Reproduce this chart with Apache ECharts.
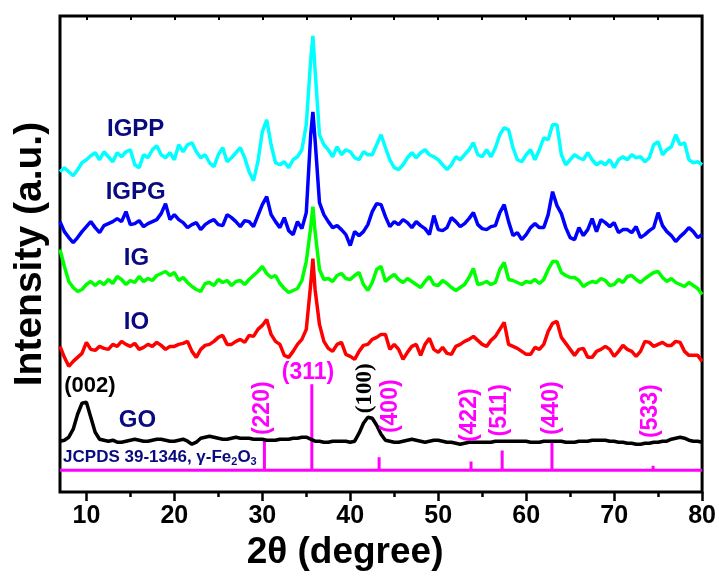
<!DOCTYPE html>
<html>
<head>
<meta charset="utf-8">
<script src="https://cdn.jsdelivr.net/npm/echarts@6/dist/echarts.min.js"></script>
<style>
  html, body { margin: 0; padding: 0; background: #fff; }
  #chart { width: 719px; height: 576px; }
</style>
</head>
<body>
<div id="chart"></div>
<script>
// 2-theta grid (degree)
const twoTheta = [
  7, 7.5, 8, 8.5, 9, 9.5, 10, 10.5, 11, 11.5,
  12, 12.5, 13, 13.5, 14, 14.5, 15, 15.5, 16, 16.5,
  17, 17.5, 18, 18.5, 19, 19.5, 20, 20.5, 21, 21.5,
  22, 22.5, 23, 23.5, 24, 24.5, 25, 25.5, 26, 26.5,
  27, 27.5, 28, 28.5, 29, 29.5, 30, 30.5, 31, 31.5,
  32, 32.5, 33, 33.5, 34, 34.5, 35, 35.5, 35.75, 36,
  36.5, 37, 37.5, 38, 38.5, 39, 39.5, 40, 40.5, 41,
  41.5, 42, 42.5, 43, 43.5, 44, 44.5, 45, 45.5, 46,
  46.5, 47, 47.5, 48, 48.5, 49, 49.5, 50, 50.5, 51,
  51.5, 52, 52.5, 53, 53.5, 54, 54.5, 55, 55.5, 56,
  56.5, 57, 57.5, 58, 58.5, 59, 59.5, 60, 60.5, 61,
  61.5, 62, 62.5, 63, 63.5, 64, 64.5, 65, 65.5, 66,
  66.5, 67, 67.5, 68, 68.5, 69, 69.5, 70, 70.5, 71,
  71.5, 72, 72.5, 73, 73.5, 74, 74.5, 75, 75.5, 76,
  76.5, 77, 77.5, 78, 78.5, 79, 79.5, 80
]

// intensities (a.u., already stacked with offsets)
const goData = [
  51, 52, 55, 63, 78, 89, 90, 75, 60, 53,
  52, 51, 52, 50, 50, 51, 52, 53, 52, 51,
  51, 52, 53, 53, 52, 51, 51, 52, 53, 51,
  48, 50, 54, 55, 56, 55, 54, 53, 53, 54,
  55, 54, 54, 54, 53, 53, 53, 52, 52, 52,
  53, 53, 53, 54, 54, 55, 55, 53, 52, 51,
  51, 50, 50, 51, 51, 51, 51, 50, 51, 59,
  69, 75, 74, 67, 58, 52, 51, 50, 50, 51,
  52, 53, 52, 51, 50, 51, 52, 52, 51, 50,
  50, 49, 48, 49, 50, 50, 50, 50, 50, 50,
  51, 51, 51, 51, 51, 51, 51, 51, 50, 50,
  50, 51, 51, 51, 51, 51, 50, 50, 50, 51,
  51, 51, 52, 52, 52, 52, 51, 51, 50, 50,
  49, 49, 48, 48, 49, 49, 50, 50, 51, 51,
  53, 54, 55, 54, 52, 51, 51, 50
]
const ioData = [
  146, 135, 126, 131, 135, 139, 150, 143, 142, 146,
  144, 143, 148, 146, 151, 148, 146, 149, 143, 145,
  148, 146, 150, 147, 143, 146, 146, 148, 149, 151,
  141, 135, 143, 147, 148, 151, 155, 157, 148, 148,
  151, 153, 150, 157, 156, 163, 167, 173, 158, 151,
  148, 137, 135, 141, 148, 153, 163, 208, 234, 203,
  168, 151, 144, 141, 148, 150, 138, 136, 133, 141,
  147, 148, 153, 155, 158, 158, 143, 148, 143, 133,
  140, 146, 148, 137, 148, 154, 143, 140, 145, 139,
  138, 146, 148, 151, 153, 156, 152, 148, 146, 152,
  156, 163, 170, 148, 146, 144, 141, 138, 138, 145,
  143, 148, 161, 169, 171, 155, 149, 143, 137, 143,
  144, 135, 135, 141, 143, 146, 143, 136, 141, 147,
  143, 141, 136, 141, 151, 150, 146, 148, 150, 147,
  147, 151, 150, 141, 137, 137, 137, 131
]
const igData = [
  243, 226, 211, 205, 201, 203, 208, 211, 207, 211,
  208, 213, 209, 216, 213, 208, 212, 210, 216, 211,
  214, 212, 217, 219, 221, 217, 220, 212, 215, 210,
  206, 203, 201, 209, 210, 207, 213, 210, 212, 207,
  211, 212, 208, 213, 217, 221, 226, 219, 215, 217,
  209, 204, 200, 202, 204, 212, 231, 265, 286, 261,
  223, 213, 214, 211, 217, 219, 214, 213, 217, 220,
  208, 202, 210, 223, 226, 211, 215, 218, 213, 210,
  214, 211, 208, 205, 211, 216, 208, 207, 212, 209,
  205, 202, 205, 208, 215, 224, 208, 209, 211, 208,
  210, 223, 230, 213, 212, 210, 208, 211, 210, 213,
  209, 213, 223, 231, 231, 220, 217, 215, 215, 212,
  206, 209, 211, 210, 214, 212, 207, 208, 213, 210,
  216, 217, 213, 210, 214, 217, 220, 221, 215, 211,
  214, 210, 208, 206, 210, 207, 204, 198
]
const igpgData = [
  271, 261, 255, 250, 255, 261, 266, 271, 265, 260,
  267, 269, 271, 274, 271, 281, 268, 269, 272, 266,
  269, 271, 273, 279, 289, 273, 278, 273, 270, 265,
  268, 270, 263, 268, 271, 273, 268, 267, 278, 275,
  271, 266, 272, 271, 266, 277, 288, 296, 278, 271,
  265, 275, 262, 258, 271, 264, 280, 358, 381, 353,
  290, 278, 271, 265, 267, 263, 258, 247, 261, 257,
  261, 268, 281, 289, 288, 276, 266, 271, 268, 273,
  270, 265, 271, 267, 264, 258, 277, 263, 262, 265,
  275, 271, 266, 269, 274, 280, 268, 264, 263, 266,
  267, 280, 288, 271, 257, 260, 253, 258, 265, 269,
  265, 265, 278, 301, 287, 279, 265, 255, 253, 265,
  257, 263, 274, 261, 273, 270, 266, 270, 260, 263,
  263, 260, 266, 255, 258, 262, 265, 280, 267, 261,
  257, 251, 256, 260, 265, 261, 255, 258
]
const igppData = [
  321, 325, 321, 317, 323, 330, 333, 337, 340, 333,
  341, 336, 331, 340, 336, 341, 343, 328, 325, 338,
  335, 343, 347, 338, 335, 340, 333, 348, 341, 348,
  350, 341, 335, 338, 330, 326, 338, 345, 331, 335,
  340, 345, 335, 321, 312, 331, 361, 373, 348, 330,
  328, 331, 325, 333, 336, 343, 368, 433, 457, 423,
  358, 348, 343, 336, 346, 338, 343, 341, 335, 333,
  341, 338, 338, 348, 358, 345, 333, 325, 323, 328,
  335, 340, 335, 340, 343, 338, 336, 333, 328, 323,
  328, 336, 333, 338, 343, 350, 338, 336, 343, 336,
  345, 358, 365, 363, 345, 333, 331, 338, 343, 333,
  343, 355, 353, 368, 368, 338, 328, 333, 338, 335,
  333, 340, 333, 328, 331, 328, 333, 325, 333, 336,
  333, 338, 335, 336, 331, 335, 348, 351, 338, 343,
  346, 358, 348, 350, 333, 330, 331, 328
]

// JCPDS 39-1346 reference lines
const jcpdsPos = [30.24, 35.63, 43.28, 53.73, 57.27, 62.93, 74.43]
const jcpdsInt = [35, 100, 15, 10, 23, 34, 5]
const jcpdsHkl = ['(220)', '(311)', '(400)', '(422)', '(511)', '(440)', '(533)']
const jcpdsBase = 22
const jcpdsScale = 0.86

const sampleNames = ['GO', 'IO', 'IG', 'IGPG', 'IGPP']
const sampleColors = ['#000000', '#ff0000', '#00ff00', '#0000ff', '#00ffff']
const sampleData = [goData, ioData, igData, igpgData, igppData]

// label anchors in data coords
const sampleLabelAt = [[15.8, 72], [15.7, 170], [15.7, 234], [15.6, 300], [15.6, 363]]
const hklLabelAt = [[30.0, 84], [35.2, 120], [44.6, 86], [53.6, 77], [57.0, 82], [62.9, 84], [74.2, 81]]
const hklRotate = [90, 0, 90, 90, 90, 90, 90]

const NAVY = '#0a0a80'
const MAGENTA = '#ff00ff'
const sans = "'Liberation Sans', Arial, sans-serif"

const chart = echarts.init(document.getElementById('chart'))

// stick pattern as one polyline on the baseline
const stickLine = [[7, jcpdsBase]]
jcpdsPos.forEach((p, i) => {
  stickLine.push([p, jcpdsBase], [p, jcpdsBase + jcpdsInt[i] * jcpdsScale], [p, jcpdsBase])
})
stickLine.push([80, jcpdsBase])

const labelItems = []
sampleNames.forEach((n, i) => {
  labelItems.push({
    value: sampleLabelAt[i],
    label: { formatter: n, fontSize: 24, fontWeight: 'bold', color: NAVY, fontFamily: sans }
  })
})
jcpdsHkl.forEach((h, i) => {
  labelItems.push({
    value: hklLabelAt[i],
    label: { formatter: h, rotate: hklRotate[i], fontSize: 23, fontWeight: 'bold', color: MAGENTA, fontFamily: sans }
  })
})
labelItems.push({
  value: [10.4, 106],
  label: { formatter: '(002)', fontSize: 22, fontWeight: 'bold', color: '#000', fontFamily: sans }
})
labelItems.push({
  value: [41.7, 104],
  label: { formatter: '(100)', rotate: 90, fontSize: 23, fontWeight: 'bold', color: '#000', fontFamily: "'Liberation Serif', 'Times New Roman', serif" }
})
labelItems.push({
  value: [7.35, 35],
  label: {
    align: 'left',
    formatter: '{a|JCPDS 39-1346, γ-Fe}{s|2}{a|O}{s|3}',
    rich: {
      a: { fontSize: 17, fontWeight: 'bold', color: NAVY, fontFamily: sans, lineHeight: 20 },
      s: { fontSize: 11, fontWeight: 'bold', color: NAVY, fontFamily: sans, verticalAlign: 'bottom', lineHeight: 20, padding: [10, 0, 0, 0] }
    }
  }
})

const series = sampleNames.map((n, i) => ({
  name: n,
  type: 'line',
  showSymbol: false,
  smooth: false,
  data: twoTheta.map((t, k) => [t, sampleData[i][k]]),
  lineStyle: { color: sampleColors[i], width: 3.5 },
  itemStyle: { color: sampleColors[i] },
  z: 3 + i
}))

series.unshift({
  name: 'JCPDS 39-1346',
  type: 'line',
  showSymbol: false,
  data: stickLine,
  lineStyle: { color: MAGENTA, width: 3 },
  z: 2
})

series.push({
  name: 'labels',
  type: 'scatter',
  symbolSize: 1,
  itemStyle: { color: 'rgba(0,0,0,0)', opacity: 1 },
  label: { show: true, position: 'inside', align: 'center', verticalAlign: 'middle', opacity: 1, textBorderWidth: 0 },
  data: labelItems,
  z: 10,
  silent: true
})

chart.setOption({
  animation: false,
  backgroundColor: '#fff',
  grid: {
    left: 60, right: 14, top: 16, bottom: 83,
    show: true, borderColor: '#000', borderWidth: 3, backgroundColor: 'transparent'
  },
  xAxis: [
    {
      type: 'value', min: 7, max: 80, position: 'bottom',
      axisLine: { show: false },
      splitLine: { show: false },
      axisTick: { show: true, customValues: [10, 20, 30, 40, 50, 60, 70, 80], length: 9, lineStyle: { color: '#000', width: 2.5 } },
      axisLabel: {
        customValues: [10, 20, 30, 40, 50, 60, 70, 80],
        fontSize: 25, fontWeight: 'bold', color: '#000', margin: 12, fontFamily: sans
      },
      name: '2θ (degree)',
      nameLocation: 'middle',
      nameGap: 38,
      nameTextStyle: { fontSize: 37, fontWeight: 'bold', color: '#000', fontFamily: sans, padding: [0, 72, 0, 0] }
    },
    {
      type: 'value', min: 7, max: 80, position: 'bottom',
      axisLine: { show: false }, splitLine: { show: false }, axisLabel: { show: false },
      axisTick: { show: true, customValues: [15, 25, 35, 45, 55, 65, 75], length: 5, lineStyle: { color: '#000', width: 2.5 } }
    },
    {
      type: 'value', min: 7, max: 80, position: 'top',
      axisLine: { show: false }, splitLine: { show: false }, axisLabel: { show: false },
      axisTick: { show: true, inside: true, customValues: [10, 15, 20, 25, 30, 35, 40, 45, 50, 55, 60, 65, 70, 75], length: 4, lineStyle: { color: '#000', width: 2 } }
    }
  ],
  yAxis: {
    type: 'value', min: 0, max: 477,
    axisLine: { show: false }, axisTick: { show: false }, axisLabel: { show: false }, splitLine: { show: false },
    name: 'Intensity (a.u.)',
    nameLocation: 'middle',
    nameGap: 10,
    nameTextStyle: { fontSize: 39, fontWeight: 'bold', color: '#000', fontFamily: sans }
  },
  series: series
})
</script>
</body>
</html>
